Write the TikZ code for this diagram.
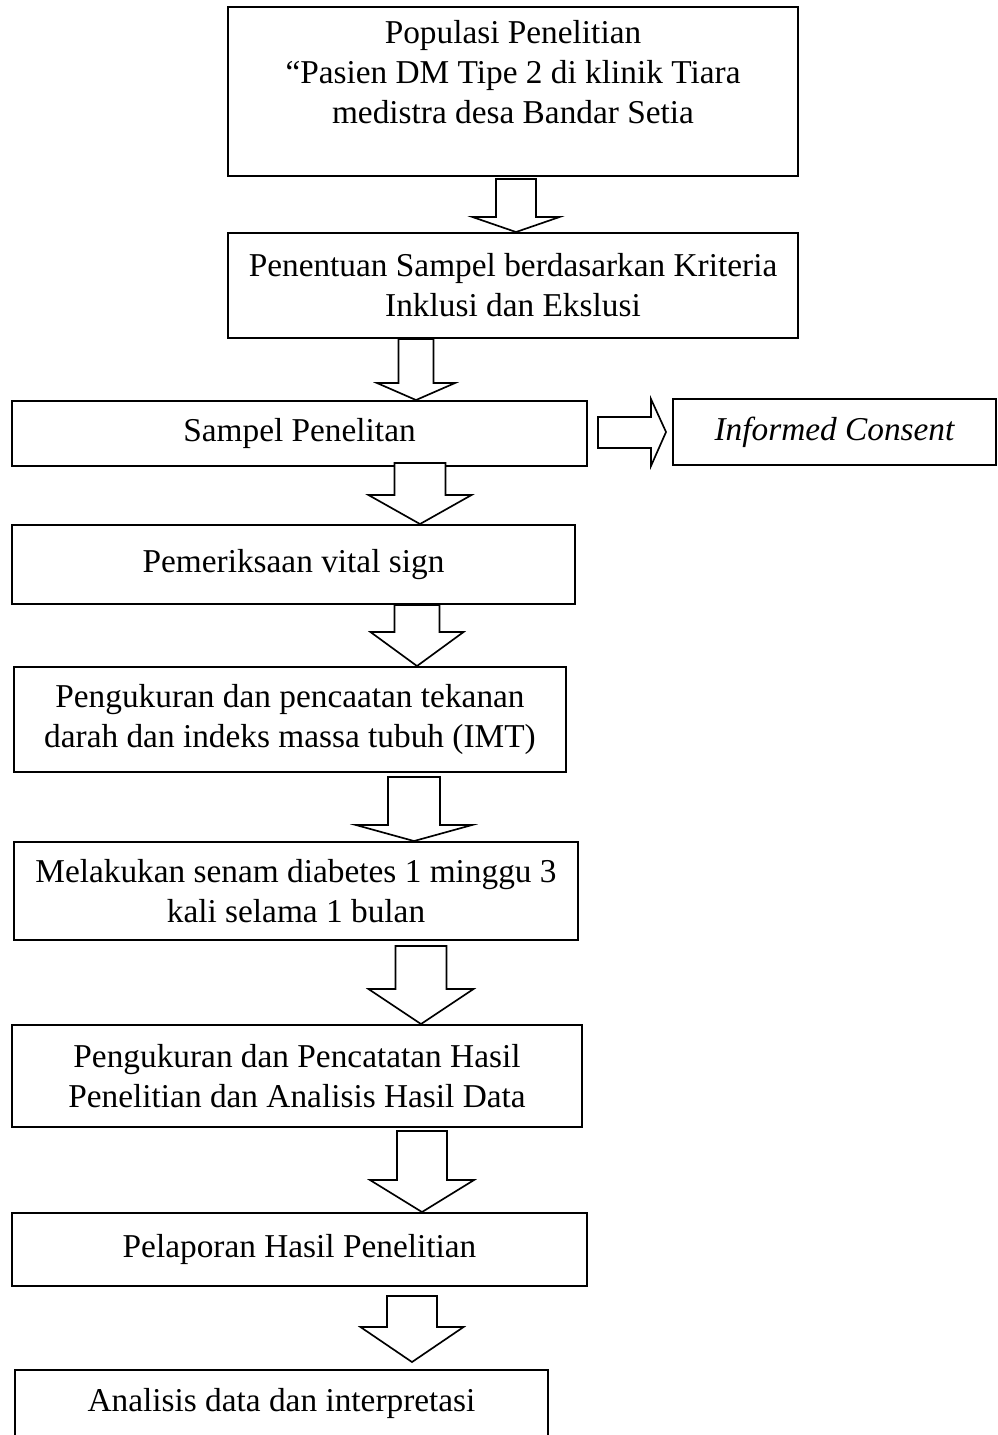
\documentclass[tikz,border=0pt]{standalone}
\usepackage{fontspec}
\setmainfont{Liberation Serif}
\usetikzlibrary{calc}

% hollow block arrow pointing down: from, to, x, shaft half width, head half width, head length, top gap, tip gap
\newcommand{\hollowdown}[8]{%
  \draw[hollow] ($(#1.south -| #3,0)+(-#4,#7)$) -- ($(#2.north -| #3,0)+(-#4,-#6-#8)$)
    -- ($(#2.north -| #3,0)+(-#5,-#6-#8)$) -- ($(#2.north -| #3,0)+(0,-#8)$)
    -- ($(#2.north -| #3,0)+(#5,-#6-#8)$) -- ($(#2.north -| #3,0)+(#4,-#6-#8)$)
    -- ($(#1.south -| #3,0)+(#4,#7)$) -- cycle;}

\begin{document}
\begin{tikzpicture}[x=0.36pt, y=-0.36pt,
  stepbox/.style={draw, line width=0.7pt, align=center, inner sep=0pt,
    font=\fontsize{12}{14.4}\selectfont},
  hollow/.style={draw, fill=white, line width=0.6pt, line join=miter}]
  \useasboundingbox (0,0) rectangle (997,1435);

  % Main flow
  \node[stepbox, minimum width=205.2pt, minimum height=60.84pt] (populasi) at (513,91.5)
  {Populasi Penelitian\\ “Pasien DM Tipe 2 di klinik Tiara\\ medistra desa Bandar Setia\\ ~};
  \node[stepbox, minimum width=205.2pt, minimum height=37.8pt] (penentuan) at (513,285.5)
  {Penentuan Sampel berdasarkan Kriteria\\ Inklusi dan Ekslusi};
  \node[stepbox, minimum width=207pt, minimum height=23.4pt] (sampel) at (299.5,433.5)
  {Sampel Penelitan};
  \node[stepbox, minimum width=202.68pt, minimum height=28.44pt] (vital) at (293.5,564.5)
  {Pemeriksaan vital sign};
  \node[stepbox, minimum width=198.72pt, minimum height=37.8pt] (ukur) at (290,719.5)
  {Pengukuran dan pencaatan tekanan\\ darah dan indeks massa tubuh (IMT)};
  \node[stepbox, minimum width=203.04pt, minimum height=35.28pt] (senam) at (296,891)
  {Melakukan senam diabetes 1 minggu 3\\ kali selama 1 bulan};
  \node[stepbox, minimum width=205.2pt, minimum height=36.72pt] (hasil) at (297,1076)
  {Pengukuran dan Pencatatan Hasil\\ Penelitian dan Analisis Hasil Data};
  \node[stepbox, minimum width=207pt, minimum height=26.28pt] (laporan) at (299.5,1249.5)
  {Pelaporan Hasil Penelitian};
  \node[stepbox, minimum width=191.88pt, minimum height=36pt] (analisis) at (281.5,1420)
  {Analisis data dan interpretasi\\ ~};

  % Side box
  \node[stepbox, minimum width=116.28pt, minimum height=23.76pt] (consent) at (834.5,432)
  {\itshape Informed Consent};

  % Arrows down
  \hollowdown{populasi}{penentuan}{516}{20}{43.5}{15}{2}{0}
  \hollowdown{penentuan}{sampel}{416}{17.5}{39}{17}{0}{0}
  \hollowdown{sampel}{vital}{420}{25.5}{51.5}{29}{-4}{0}
  \hollowdown{vital}{ukur}{417}{22.5}{46.5}{34}{0}{0}
  \hollowdown{ukur}{senam}{414}{26}{58}{16}{4}{0}
  \hollowdown{senam}{hasil}{421}{25.5}{52.5}{35}{5}{0}
  \hollowdown{hasil}{laporan}{422}{25}{52}{32}{3}{0}
  \hollowdown{laporan}{analisis}{412}{25}{51.5}{35}{9}{7}

  % Arrow to the right
  \draw[hollow] ($(sampel.east)+(10,-16.5)$) -- ++(53,0) -- ++(0,-18)
    -- ($(consent.west)+(-6,0)$) -- ($(sampel.east)+(63,32.5)$) -- ++(0,-18)
    -- ($(sampel.east)+(10,14.5)$) -- cycle;
\end{tikzpicture}
\end{document}
